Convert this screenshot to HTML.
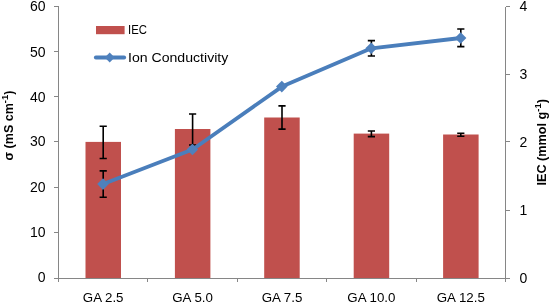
<!DOCTYPE html><html><head><meta charset="utf-8"><style>html,body{margin:0;padding:0;background:#fff}svg{display:block;will-change:transform;opacity:0.999}text{font-family:"Liberation Sans",sans-serif;fill:#000}</style></head><body>
<svg width="550" height="303" viewBox="0 0 550 303">
<rect width="550" height="303" fill="#fff"/>
<rect x="85.5" y="141.9" width="35.5" height="136.6" fill="#C0504D"/>
<rect x="174.9" y="129.0" width="35.5" height="149.5" fill="#C0504D"/>
<rect x="264.2" y="117.5" width="35.5" height="161.0" fill="#C0504D"/>
<rect x="353.7" y="133.6" width="35.5" height="144.9" fill="#C0504D"/>
<rect x="443.1" y="134.5" width="35.5" height="144.0" fill="#C0504D"/>
<g stroke="#868686" stroke-width="1" fill="none" shape-rendering="crispEdges">
<line x1="58.5" y1="6.5" x2="58.5" y2="282.0"/>
<line x1="505.5" y1="6.5" x2="505.5" y2="278.5"/>
<line x1="53.5" y1="278.5" x2="509.5" y2="278.5"/>
<line x1="53.5" y1="278.5" x2="58.5" y2="278.5"/>
<line x1="53.5" y1="232.5" x2="58.5" y2="232.5"/>
<line x1="53.5" y1="187.5" x2="58.5" y2="187.5"/>
<line x1="53.5" y1="141.5" x2="58.5" y2="141.5"/>
<line x1="53.5" y1="96.5" x2="58.5" y2="96.5"/>
<line x1="53.5" y1="51.5" x2="58.5" y2="51.5"/>
<line x1="53.5" y1="6.5" x2="58.5" y2="6.5"/>
<line x1="505.5" y1="278.5" x2="509.5" y2="278.5"/>
<line x1="505.5" y1="210.5" x2="509.5" y2="210.5"/>
<line x1="505.5" y1="141.5" x2="509.5" y2="141.5"/>
<line x1="505.5" y1="74.5" x2="509.5" y2="74.5"/>
<line x1="505.5" y1="6.5" x2="509.5" y2="6.5"/>
<line x1="147.5" y1="278.5" x2="147.5" y2="282.0"/>
<line x1="237.5" y1="278.5" x2="237.5" y2="282.0"/>
<line x1="326.5" y1="278.5" x2="326.5" y2="282.0"/>
<line x1="416.5" y1="278.5" x2="416.5" y2="282.0"/>
<line x1="505.5" y1="278.5" x2="505.5" y2="282.0"/>
</g>
<g stroke="#000" stroke-width="1.6" fill="none">
<path d="M103.2 126.3V158.5M99.6 126.3H106.8M99.6 158.5H106.8"/>
<path d="M192.6 114.0V145.0M189.0 114.0H196.2M189.0 145.0H196.2"/>
<path d="M282.0 105.9V129.1M278.4 105.9H285.6M278.4 129.1H285.6"/>
<path d="M371.4 131.0V136.6M367.8 131.0H375.0M367.8 136.6H375.0"/>
<path d="M460.8 133.2V136.2M457.2 133.2H464.4M457.2 136.2H464.4"/>
<path d="M103.2 170.9V197.2M99.6 170.9H106.8M99.6 197.2H106.8"/>
<path d="M371.4 40.6V56.0M367.8 40.6H375.0M367.8 56.0H375.0"/>
<path d="M460.8 29.0V46.6M457.2 29.0H464.4M457.2 46.6H464.4"/>
</g>
<polyline points="103.2,184.1 192.6,149.5 282.0,86.6 371.4,48.3 460.8,38.0" fill="none" stroke="#4A7EBB" stroke-width="3.8" stroke-linejoin="round" stroke-linecap="round"/>
<path d="M103.0 178.3L108.8 184.1L103.0 189.9L97.2 184.1Z" fill="#4F81BD"/>
<path d="M192.4 143.7L198.2 149.5L192.4 155.3L186.6 149.5Z" fill="#4F81BD"/>
<path d="M281.8 80.8L287.6 86.6L281.8 92.4L276.0 86.6Z" fill="#4F81BD"/>
<path d="M371.2 42.5L377.0 48.3L371.2 54.1L365.4 48.3Z" fill="#4F81BD"/>
<path d="M460.6 32.2L466.4 38.0L460.6 43.8L454.8 38.0Z" fill="#4F81BD"/>
<text x="45.5" y="282.3" font-size="14" text-anchor="end">0</text>
<text x="45.5" y="237.3" font-size="14" text-anchor="end">10</text>
<text x="45.5" y="192.0" font-size="14" text-anchor="end">20</text>
<text x="45.5" y="146.3" font-size="14" text-anchor="end">30</text>
<text x="45.5" y="102.3" font-size="14" text-anchor="end">40</text>
<text x="45.5" y="56.7" font-size="14" text-anchor="end">50</text>
<text x="45.5" y="10.7" font-size="14" text-anchor="end">60</text>
<text x="519.6" y="282.7" font-size="14">0</text>
<text x="519.6" y="214.7" font-size="14">1</text>
<text x="519.6" y="146.8" font-size="14">2</text>
<text x="519.6" y="78.8" font-size="14">3</text>
<text x="519.6" y="10.8" font-size="14">4</text>
<text x="103.2" y="302.1" font-size="13.3" text-anchor="middle">GA 2.5</text>
<text x="192.6" y="302.1" font-size="13.3" text-anchor="middle">GA 5.0</text>
<text x="282.0" y="302.1" font-size="13.3" text-anchor="middle">GA 7.5</text>
<text x="371.4" y="302.1" font-size="13.3" text-anchor="middle">GA 10.0</text>
<text x="460.8" y="302.1" font-size="13.3" text-anchor="middle">GA 12.5</text>
<rect x="96" y="26" width="28.6" height="8.2" fill="#C0504D"/>
<text x="128" y="34.3" font-size="13" textLength="18.9" lengthAdjust="spacingAndGlyphs">IEC</text>
<line x1="95.8" y1="57.5" x2="124.2" y2="57.5" stroke="#4A7EBB" stroke-width="3.8" stroke-linecap="round"/>
<path d="M109.7 52.6L114.6 57.5L109.7 62.4L104.8 57.5Z" fill="#4F81BD"/>
<text x="128" y="61.5" font-size="13" textLength="100.3" lengthAdjust="spacingAndGlyphs">Ion Conductivity</text>
<text transform="translate(12.5,125.5) rotate(-90) scale(1.02,1)" font-size="12.3" font-weight="bold" text-anchor="middle">σ (mS cm<tspan font-size="9.3" dy="-4.6">-1</tspan><tspan dy="4.6">)</tspan></text>
<text transform="translate(546,142.3) rotate(-90) scale(1.02,1)" font-size="12.4" font-weight="bold" text-anchor="middle">IEC (mmol g<tspan font-size="9.3" dy="-4.6">-1</tspan><tspan dy="4.6">)</tspan></text>
</svg></body></html>
